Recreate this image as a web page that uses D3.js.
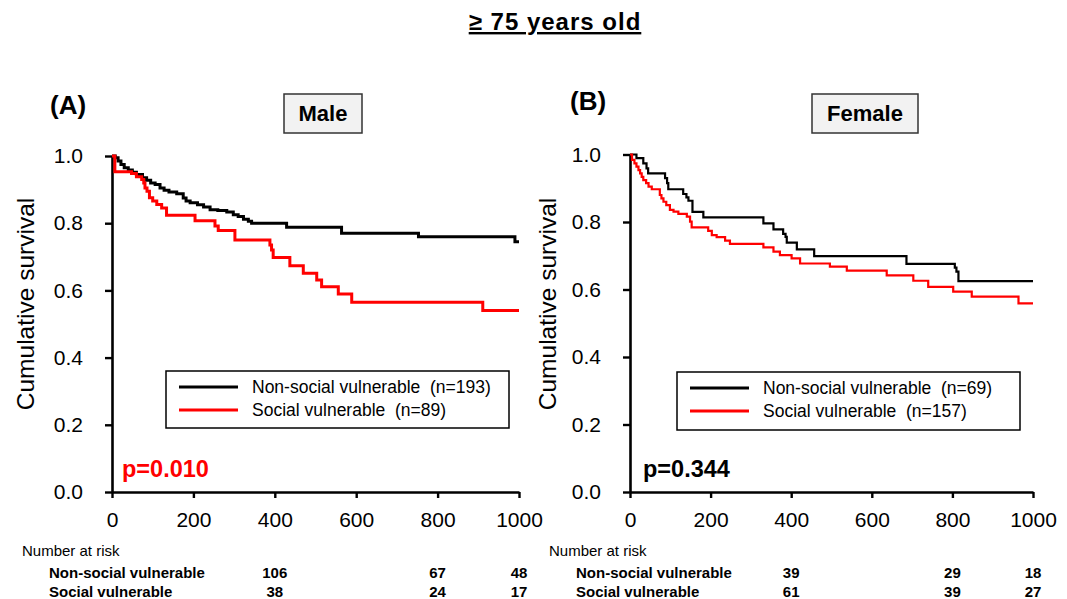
<!DOCTYPE html>
<html>
<head>
<meta charset="utf-8">
<script src="https://cdn.jsdelivr.net/npm/d3@7"></script>
<style>
  body { margin: 0; background: #fff; }
  text { font-family: Arial, "Liberation Sans", sans-serif; white-space: pre; }
</style>
</head>
<body>
<div id="chart"></div>
<script>
// Kaplan-Meier steps: [day, survival]
const maleNonSocial = [[0,1],[8,0.995],[15,0.985],[22,0.975],[30,0.965],[40,0.958],[50,0.952],[60,0.945],[75,0.935],[85,0.928],[95,0.92],[106,0.915],[118,0.905],[128,0.898],[140,0.893],[159,0.888],[175,0.875],[182,0.866],[192,0.861],[210,0.855],[225,0.848],[241,0.84],[260,0.838],[282,0.833],[298,0.825],[310,0.82],[323,0.812],[335,0.806],[343,0.8],[429,0.788],[564,0.77],[753,0.76],[990,0.745]];
const maleSocial = [[0,1],[7,0.953],[48,0.948],[60,0.938],[73,0.93],[78,0.92],[81,0.905],[86,0.895],[92,0.876],[100,0.866],[110,0.856],[122,0.845],[134,0.824],[204,0.807],[253,0.792],[261,0.778],[302,0.75],[388,0.735],[392,0.72],[396,0.698],[437,0.673],[470,0.651],[503,0.631],[515,0.611],[556,0.589],[589,0.565],[911,0.54]];
const femaleNonSocial = [[0,1],[16,0.989],[33,0.974],[41,0.959],[45,0.944],[87,0.93],[92,0.915],[95,0.897],[132,0.883],[140,0.873],[145,0.863],[155,0.83],[182,0.814],[331,0.796],[356,0.778],[380,0.765],[386,0.756],[389,0.739],[414,0.719],[457,0.699],[686,0.676],[806,0.665],[810,0.653],[815,0.625]];
const femaleSocial = [[0,1],[5,0.984],[11,0.974],[16,0.964],[21,0.954],[25,0.944],[29,0.934],[33,0.924],[40,0.915],[46,0.905],[54,0.897],[74,0.88],[78,0.87],[83,0.86],[90,0.85],[99,0.836],[108,0.831],[120,0.824],[141,0.816],[149,0.801],[153,0.784],[194,0.774],[203,0.761],[215,0.755],[236,0.745],[248,0.735],[331,0.725],[356,0.712],[372,0.702],[401,0.692],[422,0.677],[496,0.668],[538,0.656],[637,0.642],[703,0.626],[740,0.608],[802,0.594],[848,0.579],[964,0.559]];

const xTicks = [0, 200, 400, 600, 800, 1000];
const yTicks = [0, 0.2, 0.4, 0.6, 0.8, 1.0];
const riskDays = [400, 800, 1000];
const maleRiskNonSocial = [106, 67, 48];
const maleRiskSocial = [38, 24, 17];
const femaleRiskNonSocial = [39, 29, 18];
const femaleRiskSocial = [61, 39, 27];

const W = 1067, H = 599;
const svg = d3.select("#chart").append("svg").attr("width", W).attr("height", H);

// Title
svg.append("text")
  .attr("x", 555).attr("y", 30)
  .attr("text-anchor", "middle")
  .attr("font-size", 24).attr("font-weight", "bold")
  .attr("letter-spacing", 1)
  .attr("text-decoration", "underline")
  .text("\u2265 75 years old");

const panels = [
  { tag: "(A)", tagX: 50, tagY: 114, sex: "Male", box: [284, 94, 78, 39],
    x0: 112, x1: 519, y0: 492, y1: 156, lw: 3,
    black: maleNonSocial, red: maleSocial,
    legend: { x: 166, y: 371, w: 343, h: 57, n1: "Non-social vulnerable  (n=193)", n2: "Social vulnerable  (n=89)" },
    p: "p=0.010", pColor: "#ff0000", pX: 122,
    risk: [maleRiskNonSocial, maleRiskSocial], riskLabelX: 22, ylabX: 34 },
  { tag: "(B)", tagX: 570, tagY: 110, sex: "Female", box: [812, 94, 106, 39],
    x0: 630, x1: 1033, y0: 492, y1: 154.5, lw: 2.2,
    black: femaleNonSocial, red: femaleSocial,
    legend: { x: 677, y: 372, w: 343, h: 58, n1: "Non-social vulnerable  (n=69)", n2: "Social vulnerable  (n=157)" },
    p: "p=0.344", pColor: "#000", pX: 643,
    risk: [femaleRiskNonSocial, femaleRiskSocial], riskLabelX: 549, ylabX: 556 }
];

panels.forEach(p => {
  const x = d3.scaleLinear().domain([0, 1000]).range([p.x0, p.x1]);
  const y = d3.scaleLinear().domain([0, 1]).range([p.y0, p.y1]);
  const g = svg.append("g");

  g.append("text").attr("x", p.tagX).attr("y", p.tagY)
    .attr("font-size", 26).attr("font-weight", "bold").text(p.tag);

  g.append("rect").attr("x", p.box[0]).attr("y", p.box[1])
    .attr("width", p.box[2]).attr("height", p.box[3])
    .attr("fill", "#f2f2f2").attr("stroke", "#333").attr("stroke-width", 1.5);
  g.append("text").attr("x", p.box[0] + p.box[2] / 2).attr("y", p.box[1] + 27)
    .attr("text-anchor", "middle").attr("font-size", 22).attr("font-weight", "bold")
    .text(p.sex);

  // axes
  const yAxis = g.append("g").attr("transform", `translate(${p.x0},0)`)
    .call(d3.axisLeft(y).tickValues(yTicks).tickFormat(d3.format(".1f")).tickSize(7).tickSizeOuter(0).tickPadding(22));
  const xAxis = g.append("g").attr("transform", `translate(0,${p.y0})`)
    .call(d3.axisBottom(x).tickValues(xTicks).tickFormat(d3.format("d")).tickSize(6).tickSizeOuter(0).tickPadding(14));
  [xAxis, yAxis].forEach(a => {
    a.select(".domain").attr("stroke", "#000").attr("stroke-width", 2.6);
    a.selectAll(".tick line").attr("stroke", "#000").attr("stroke-width", 2.4);
    a.selectAll(".tick text").attr("font-size", 21).attr("fill", "#000")
      .attr("font-family", "Arial, 'Liberation Sans', sans-serif");
  });

  g.append("text")
    .attr("transform", `translate(${p.ylabX},304) rotate(-90)`)
    .attr("text-anchor", "middle").attr("font-size", 24.5)
    .text("Cumulative survival");

  // curves
  const line = d3.line().x(d => x(d[0])).y(d => y(d[1])).curve(d3.curveStepAfter);
  [[p.black, "#000"], [p.red, "#ff0000"]].forEach(([data, col]) => {
    const pts = data.concat([[1000, data[data.length - 1][1]]]);
    g.append("path").datum(pts).attr("d", line)
      .attr("fill", "none").attr("stroke", col).attr("stroke-width", p.lw);
  });

  // legend
  const L = p.legend;
  g.append("rect").attr("x", L.x).attr("y", L.y).attr("width", L.w).attr("height", L.h)
    .attr("fill", "#fff").attr("stroke", "#000").attr("stroke-width", 1.5);
  [[L.n1, "#000", 16], [L.n2, "#ff0000", 39]].forEach(([lab, col, dy]) => {
    g.append("line").attr("x1", L.x + 13).attr("x2", L.x + 72)
      .attr("y1", L.y + dy).attr("y2", L.y + dy)
      .attr("stroke", col).attr("stroke-width", 3);
    g.append("text").attr("x", L.x + 86).attr("y", L.y + dy + 6)
      .attr("font-size", 17.5).text(lab);
  });

  g.append("text").attr("x", p.pX).attr("y", 477)
    .attr("font-size", 23.5).attr("font-weight", "bold").attr("fill", p.pColor)
    .text(p.p);

  // number at risk
  g.append("text").attr("x", p.riskLabelX).attr("y", 556)
    .attr("font-size", 15).text("Number at risk");
  ["Non-social vulnerable", "Social vulnerable"].forEach((lab, i) => {
    const yy = 578 + i * 18.5;
    g.append("text").attr("x", p.riskLabelX + 27).attr("y", yy)
      .attr("font-size", 15).attr("font-weight", "bold").text(lab);
    g.selectAll(null).data(p.risk[i]).enter().append("text")
      .attr("x", (d, j) => x(riskDays[j])).attr("y", yy)
      .attr("text-anchor", "middle").attr("font-size", 15).attr("font-weight", "bold")
      .text(d => d);
  });
});
</script>
</body>
</html>
